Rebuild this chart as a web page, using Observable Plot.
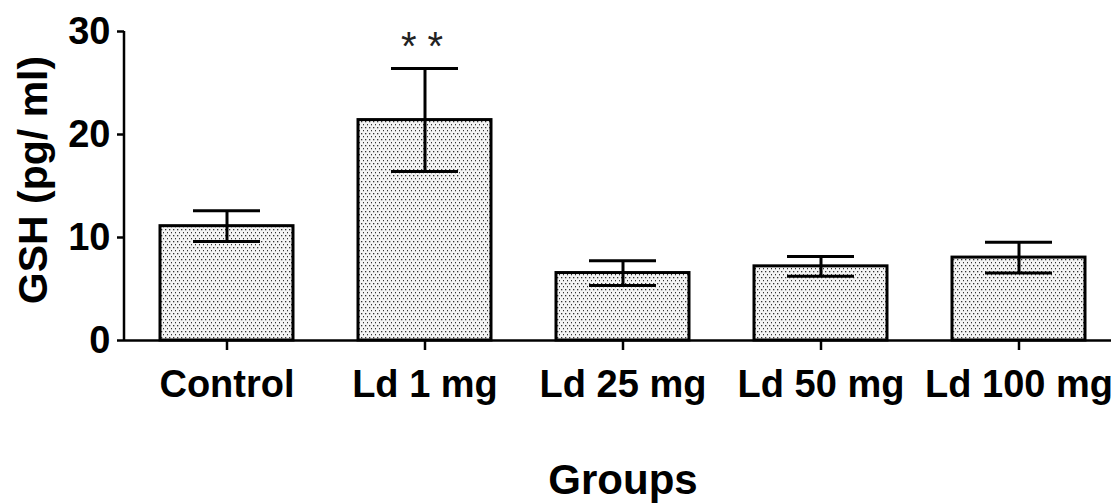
<!DOCTYPE html>
<html>
<head>
<meta charset="utf-8">
<script src="https://cdn.jsdelivr.net/npm/d3@7"></script>
<script src="https://cdn.jsdelivr.net/npm/@observablehq/plot@0.6"></script>
<style>
  html, body { margin: 0; padding: 0; background: #fff; overflow: hidden; }
  svg { display: block; }
</style>
</head>
<body>
<div id="chart"></div>
<script>
const groups = ["Control", "Ld 1 mg", "Ld 25 mg", "Ld 50 mg", "Ld 100 mg"];
const means = [11.1, 21.4, 6.55, 7.2, 8.05];
const sems = [1.5, 5.0, 1.2, 0.95, 1.5];
const marks = ["", "* *", "", "", ""];
const yTicks = [0, 10, 20, 30];
const yLabel = "GSH (pg/ ml)";
const xLabel = "Groups";

const data = groups.map((g, i) => ({group: g, mean: means[i], sem: sems[i], sig: marks[i]}));
const font = "'Liberation Sans', Arial, Helvetica, sans-serif";

// vertical axis line at the left edge of the frame, from library dimensions
function yAxisLine(index, scales, values, dims) {
  const line = document.createElementNS("http://www.w3.org/2000/svg", "line");
  const x = dims.marginLeft;
  line.setAttribute("x1", x);
  line.setAttribute("x2", x);
  line.setAttribute("y1", scales.y(yTicks[yTicks.length - 1]));
  line.setAttribute("y2", scales.y(0) + 1);
  line.setAttribute("stroke", "black");
  line.setAttribute("stroke-width", 2.5);
  return line;
}

const chart = Plot.plot({
  width: 1111,
  height: 504,
  marginLeft: 124,
  marginRight: 0,
  marginTop: 31,
  marginBottom: 164,
  style: {fontFamily: font, background: "white", color: "black", overflow: "hidden"},
  x: {domain: groups, range: [126, 1118], paddingInner: 0.33, paddingOuter: 0.165, label: null},
  y: {domain: [0, 30], label: null},
  marks: [
    Plot.barY(data, {x: "group", y: "mean", fill: "url(#dots)", stroke: "black", strokeWidth: 3}),
    Plot.ruleX(data, {x: "group", y1: d => d.mean - d.sem, y2: d => d.mean + d.sem, stroke: "black", strokeWidth: 3}),
    Plot.tickY(data, {x: "group", y: d => d.mean + d.sem, stroke: "black", strokeWidth: 3, inset: 33}),
    Plot.tickY(data, {x: "group", y: d => d.mean - d.sem, stroke: "black", strokeWidth: 3, inset: 33}),
    Plot.ruleY([0], {stroke: "black", strokeWidth: 2.5}),
    yAxisLine,
    Plot.axisY({ticks: yTicks, tickSize: 7, tickPadding: 7, fontSize: 38, fontWeight: "bold", strokeWidth: 2.5, label: null}),
    Plot.axisX({tickSize: 10, tickPadding: 20, fontSize: 38, fontWeight: "bold", strokeWidth: 2.5, label: null}),
    Plot.text(data, {x: "group", y: d => d.mean + d.sem, text: "sig", fontSize: 40, dx: -3, dy: -21, fill: "#222"}),
    Plot.text([yLabel], {text: d => d, frameAnchor: "left", textAnchor: "middle", rotate: -90, dx: -91, dy: -6, fontSize: 41, fontWeight: "bold", lineAnchor: "middle"}),
    Plot.text([xLabel], {text: d => d, frameAnchor: "bottom", dx: 5, dy: 124, fontSize: 42, fontWeight: "bold", lineAnchor: "top"})
  ]
});

const svg = d3.select(chart);
const defs = svg.insert("defs", ":first-child");
const pat = defs.append("pattern")
  .attr("id", "dots")
  .attr("patternUnits", "userSpaceOnUse")
  .attr("width", 4)
  .attr("height", 6);
pat.append("rect").attr("width", 4).attr("height", 6).attr("fill", "#f4f4f4");
pat.append("rect").attr("x", 1).attr("y", 1).attr("width", 1.3).attr("height", 1.3).attr("fill", "#333");
pat.append("rect").attr("x", 3).attr("y", 4).attr("width", 1.3).attr("height", 1.3).attr("fill", "#333");

document.getElementById("chart").appendChild(chart);
</script>
</body>
</html>
